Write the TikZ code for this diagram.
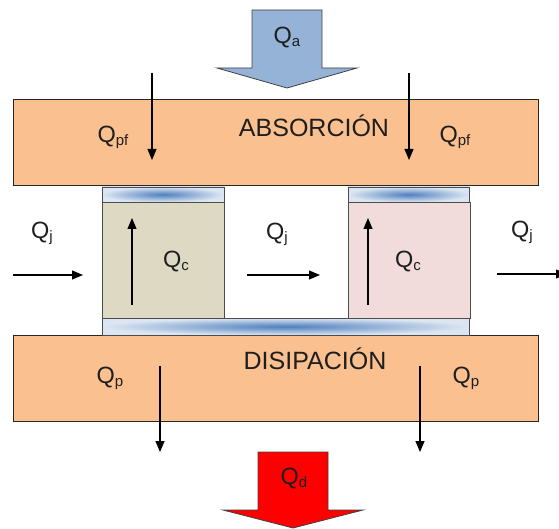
\documentclass[tikz,border=0pt]{standalone}
\usepackage{fontspec}
\setmainfont{Liberation Sans}
\usetikzlibrary{arrows.meta}
\definecolor{boxorange}{HTML}{FAC090}
\definecolor{arrowblue}{HTML}{95B3D7}
\definecolor{arrowred}{HTML}{FF0000}
\definecolor{celltan}{HTML}{DDD9C3}
\definecolor{cellpink}{HTML}{F2DCDB}
\definecolor{striplight}{HTML}{DCE6F2}
\definecolor{stripdark}{HTML}{4F7FBD}
\definecolor{inkcol}{HTML}{1E1E1E}
\newcommand\Qs[1]{Q\raisebox{-3pt}{\fontsize{15}{15}\selectfont #1}}
\begin{document}
\begin{tikzpicture}[x=1pt,y=-1pt,
  band/.style={draw=black!85, line width=1pt, fill=boxorange, minimum width=525pt, minimum height=86pt, inner sep=0pt},
  cellbox/.style={draw=black!70, line width=0.8pt, minimum width=122pt, minimum height=116pt, inner sep=0pt},
  strip/.style={draw=black!70, line width=0.8pt, inner color=stripdark, outer color=striplight, inner sep=0pt},
  lbl/.style={font=\fontsize{23.5}{26}\selectfont, text=inkcol, inner sep=0pt},
  title/.style={font=\fontsize{25}{28}\selectfont, text=inkcol, inner sep=0pt},
  flow/.style={-{Triangle[length=11pt,width=9pt]}, line width=1.2pt, black},
  blockarrow/.style={draw=black!75, line width=0.8pt, line join=miter}
]
\useasboundingbox (0,0) rectangle (559,529);
\clip (0,0) rectangle (559,529);

% block arrows
\draw[blockarrow, fill=arrowblue] (252,10) -- (322,10) -- (322,68) -- (357,68) -- (287,88) -- (217,68) -- (252,68) -- cycle;
\node[lbl] (qa) at (287,38) {\Qs{a}};

\draw[blockarrow, fill=arrowred] (258,452) -- (328,452) -- (328,510) -- (363,510) -- (293,528) -- (223,510) -- (258,510) -- cycle;
\node[lbl] (qd) at (294,479) {\Qs{d}};

% bands
\node[band] (abs) at (275.5,143) {};
\node[title] (abstxt) at (314,126) {ABSORCIÓN};
\node[band] (dis) at (275.5,378) {};
\node[title] (distxt) at (315,359) {DISIPACIÓN};

% cells
\node[cellbox, fill=celltan] (cellL) at (163,260) {};
\node[cellbox, fill=cellpink] (cellR) at (409,260) {};
\node[strip, minimum width=122pt, minimum height=15pt] (stripL) at (163,194.5) {};
\node[strip, minimum width=121pt, minimum height=15pt] (stripR) at (408.5,194.5) {};
\node[strip, minimum width=367pt, minimum height=17pt] (stripB) at (285.5,326.5) {};

% labels
\node[lbl] (qpf1) at (113,137) {\Qs{pf}};
\node[lbl] (qpf2) at (455,137) {\Qs{pf}};
\node[lbl] (qp1) at (110,378) {\Qs{p}};
\node[lbl] (qp2) at (466,378) {\Qs{p}};
\node[lbl] (qj1) at (42,233) {\Qs{j}};
\node[lbl] (qj2) at (277,234) {\Qs{j}};
\node[lbl] (qj3) at (522,232) {\Qs{j}};
\node[lbl] (qc1) at (176,262) {\Qs{c}};
\node[lbl] (qc2) at (408,262) {\Qs{c}};

% flow arrows
\coordinate (pf1s) at (152,73);  \coordinate (pf1e) at (152,160);
\coordinate (pf2s) at (409,73);  \coordinate (pf2e) at (409,160);
\coordinate (p1s) at (160,366);  \coordinate (p1e) at (160,452);
\coordinate (p2s) at (420,366);  \coordinate (p2e) at (420,452);
\coordinate (c1s) at (132,305);  \coordinate (c1e) at (132,218);
\coordinate (c2s) at (368,305);  \coordinate (c2e) at (368,218);
\coordinate (j1s) at (13,275);   \coordinate (j1e) at (83,275);
\coordinate (j2s) at (247,275);  \coordinate (j2e) at (320,275);
\coordinate (j3s) at (497,274);  \coordinate (j3e) at (567,274);
\foreach \a/\b in {pf1s/pf1e,pf2s/pf2e,p1s/p1e,p2s/p2e,c1s/c1e,c2s/c2e,j1s/j1e,j2s/j2e,j3s/j3e}
  \draw[flow] (\a) -- (\b);
\end{tikzpicture}
\end{document}
